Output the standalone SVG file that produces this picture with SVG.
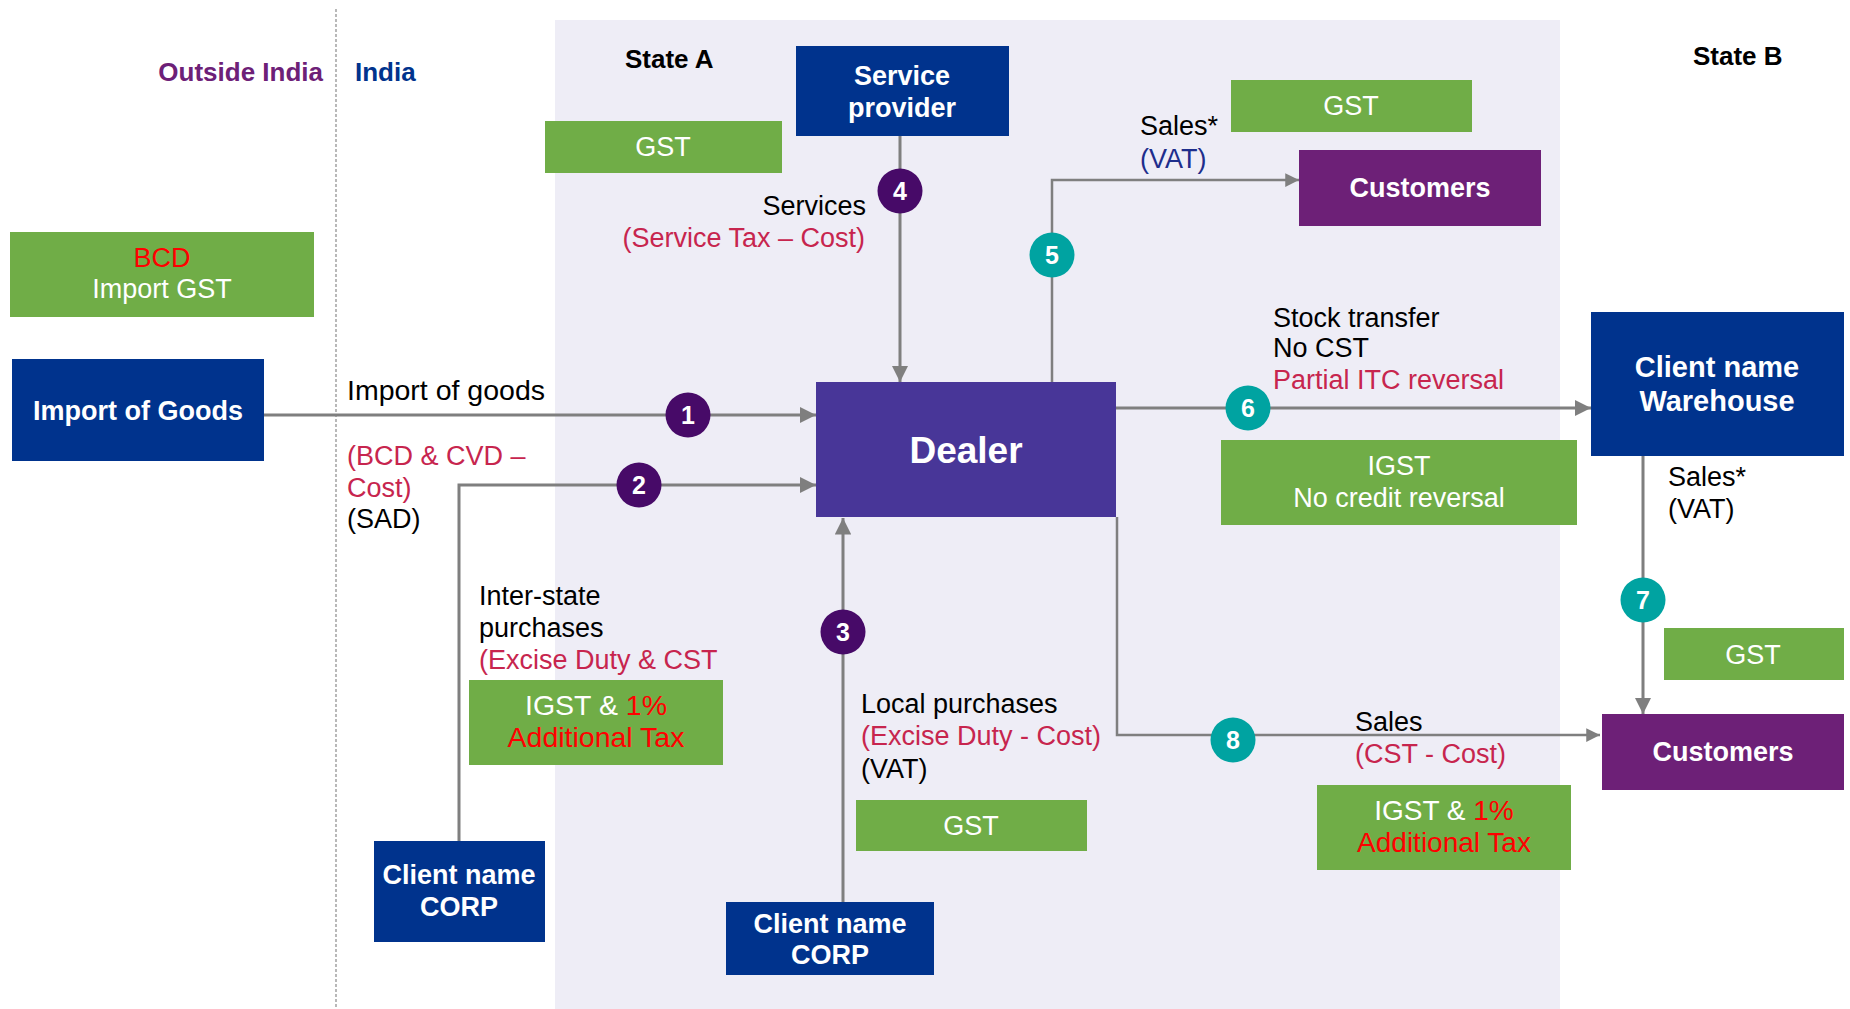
<svg xmlns="http://www.w3.org/2000/svg" width="1850" height="1009" viewBox="0 0 1850 1009">
<style>
text{font-family:"Liberation Sans",Arial,sans-serif}
.lbl{font-size:27px;fill:#000}
.red{fill:#C7254E}
.blu{fill:#1E2E8C}
.bt{font-size:27px;font-weight:bold;fill:#fff;text-anchor:middle}
.gt{font-size:27px;fill:#fff;text-anchor:middle}
.rr{fill:#FF0000}
.blue{fill:#00338D}
.purp{fill:#6D2077}
.green{fill:#70AD47}
.dealer{fill:#483698}
.conn{stroke:#7F7F7F;stroke-width:3;fill:none}
.c1{fill:#470A68}
.c2{fill:#00A3A1}
.num{font-size:25px;font-weight:bold;fill:#fff;text-anchor:middle}
.hdr{font-size:26px;font-weight:bold}
</style>
<defs>
<marker id="arr" viewBox="0 0 10 10" refX="10" refY="5" markerWidth="5.5" markerHeight="5.5" orient="auto" markerUnits="strokeWidth">
<path d="M0,0 L10,5 L0,10 z" fill="#7F7F7F"/>
</marker>
</defs>
<rect x="0" y="0" width="1850" height="1009" fill="#fff"/>
<rect x="555" y="20" width="1005" height="989" fill="#EEEDF6"/>
<line x1="336" y1="9" x2="336" y2="1009" stroke="#8A8A8A" stroke-width="1.2" stroke-dasharray="3,2"/>

<g id="headers">
<text class="hdr" x="323" y="81" text-anchor="end" fill="#6D2077">Outside India</text>
<text class="hdr" x="355" y="81" fill="#00338D">India</text>
<text class="hdr" x="625" y="68" fill="#000">State A</text>
<text class="hdr" x="1693" y="65" fill="#000">State B</text>
</g>

<g id="connectors">
<line class="conn" x1="264" y1="415" x2="816" y2="415" marker-end="url(#arr)"/>
<polyline class="conn" points="459,841 459,485 816,485" marker-end="url(#arr)"/>
<line class="conn" x1="843" y1="902" x2="843" y2="518" marker-end="url(#arr)"/>
<line class="conn" x1="900" y1="136" x2="900" y2="382" marker-end="url(#arr)"/>
<polyline class="conn" points="1052,382 1052,180 1299,180" marker-end="url(#arr)" style="stroke-width:2.5"/>
<line class="conn" x1="1116" y1="408" x2="1591" y2="408" marker-end="url(#arr)"/>
<line class="conn" x1="1643" y1="456" x2="1643" y2="714" marker-end="url(#arr)"/>
<polyline class="conn" points="1117,517 1117,735 1600,735" marker-end="url(#arr)" style="stroke-width:2.5"/>
</g>

<g id="labels">
<text class="lbl" x="347" y="400" style="font-size:28.5px">Import of goods</text>
<text class="lbl red" x="347" y="465">(BCD &amp; CVD –</text>
<text class="lbl red" x="347" y="497">Cost)</text>
<text class="lbl" x="347" y="528">(SAD)</text>
<text class="lbl" x="479" y="605">Inter-state</text>
<text class="lbl" x="479" y="637">purchases</text>
<text class="lbl red" x="479" y="669">(Excise Duty &amp; CST</text>
<text class="lbl" x="866" y="215" text-anchor="end">Services</text>
<text class="lbl red" x="865" y="247" text-anchor="end">(Service Tax – Cost)</text>
<text class="lbl" x="1140" y="135">Sales*</text>
<text class="lbl blu" x="1140" y="168">(VAT)</text>
<text class="lbl" x="1273" y="327">Stock transfer</text>
<text class="lbl" x="1273" y="357">No CST</text>
<text class="lbl red" x="1273" y="389">Partial ITC reversal</text>
<text class="lbl" x="1668" y="486">Sales*</text>
<text class="lbl" x="1668" y="518">(VAT)</text>
<text class="lbl" x="861" y="713">Local purchases</text>
<text class="lbl red" x="861" y="745">(Excise Duty - Cost)</text>
<text class="lbl" x="861" y="778">(VAT)</text>
<text class="lbl" x="1355" y="731">Sales</text>
<text class="lbl red" x="1355" y="763">(CST - Cost)</text>
</g>

<g id="node-bcd">
<rect class="green" x="10" y="232" width="304" height="85"/>
<text class="gt" x="162" y="267"><tspan class="rr">BCD</tspan></text>
<text class="gt" x="162" y="298">Import GST</text>
</g>
<g id="node-import">
<rect class="blue" x="12" y="359" width="252" height="102"/>
<text class="bt" x="138" y="420">Import of Goods</text>
</g>
<g id="node-gst-a">
<rect class="green" x="545" y="121" width="237" height="52"/>
<text class="gt" x="663" y="156">GST</text>
</g>
<g id="node-service">
<rect class="blue" x="796" y="46" width="213" height="90"/>
<text class="bt" x="902" y="85">Service</text>
<text class="bt" x="902" y="117">provider</text>
</g>
<g id="node-gst-sales">
<rect class="green" x="1231" y="80" width="241" height="52"/>
<text class="gt" x="1351" y="115">GST</text>
</g>
<g id="node-customers-a">
<rect class="purp" x="1299" y="150" width="242" height="76"/>
<text class="bt" x="1420" y="197">Customers</text>
</g>
<g id="node-dealer">
<rect class="dealer" x="816" y="382" width="300" height="135"/>
<text class="bt" x="966" y="463" style="font-size:37px">Dealer</text>
</g>
<g id="node-warehouse">
<rect class="blue" x="1591" y="312" width="253" height="144"/>
<text class="bt" x="1717" y="377" style="font-size:29px">Client name</text>
<text class="bt" x="1717" y="411" style="font-size:29px">Warehouse</text>
</g>
<g id="node-igst-st">
<rect class="green" x="1221" y="440" width="356" height="85"/>
<text class="gt" x="1399" y="475">IGST</text>
<text class="gt" x="1399" y="507">No credit reversal</text>
</g>
<g id="node-gst-b">
<rect class="green" x="1664" y="628" width="180" height="52"/>
<text class="gt" x="1753" y="664">GST</text>
</g>
<g id="node-customers-b">
<rect class="purp" x="1602" y="714" width="242" height="76"/>
<text class="bt" x="1723" y="761">Customers</text>
</g>
<g id="node-igst-sales">
<rect class="green" x="1317" y="785" width="254" height="85"/>
<text class="gt" x="1444" y="820" style="font-size:28px">IGST &amp; <tspan class="rr">1%</tspan></text>
<text class="gt rr" x="1444" y="852" style="font-size:28px">Additional Tax</text>
</g>
<g id="node-igst-inter">
<rect class="green" x="469" y="680" width="254" height="85"/>
<text class="gt" x="596" y="715" style="font-size:28.5px">IGST &amp; <tspan class="rr">1%</tspan></text>
<text class="gt rr" x="596" y="747" style="font-size:28.5px">Additional Tax</text>
</g>
<g id="node-gst-local">
<rect class="green" x="856" y="800" width="231" height="51"/>
<text class="gt" x="971" y="835">GST</text>
</g>
<g id="node-corp-1">
<rect class="blue" x="374" y="841" width="171" height="101"/>
<text class="bt" x="459" y="884">Client name</text>
<text class="bt" x="459" y="916">CORP</text>
</g>
<g id="node-corp-2">
<rect class="blue" x="726" y="902" width="208" height="73"/>
<text class="bt" x="830" y="933">Client name</text>
<text class="bt" x="830" y="964">CORP</text>
</g>

<g id="badges">
<circle class="c1" cx="688" cy="415" r="22.5"/><text class="num" x="688" y="424">1</text>
<circle class="c1" cx="639" cy="485" r="22.5"/><text class="num" x="639" y="494">2</text>
<circle class="c1" cx="843" cy="632" r="22.5"/><text class="num" x="843" y="641">3</text>
<circle class="c1" cx="900" cy="191" r="22.5"/><text class="num" x="900" y="200">4</text>
<circle class="c2" cx="1052" cy="255" r="22.5"/><text class="num" x="1052" y="264">5</text>
<circle class="c2" cx="1248" cy="408" r="22.5"/><text class="num" x="1248" y="417">6</text>
<circle class="c2" cx="1643" cy="600" r="22.5"/><text class="num" x="1643" y="609">7</text>
<circle class="c2" cx="1233" cy="740" r="22.5"/><text class="num" x="1233" y="749">8</text>
</g>
</svg>
